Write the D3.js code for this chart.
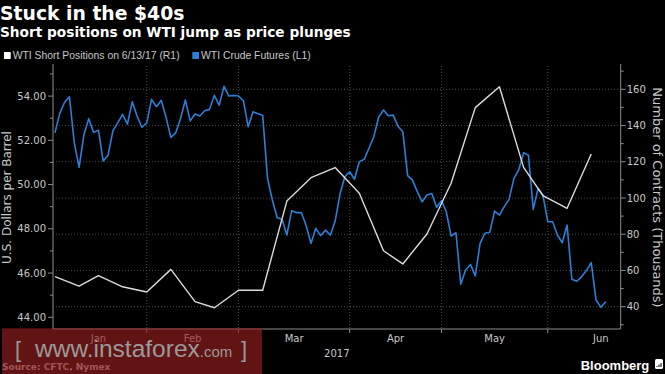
<!DOCTYPE html>
<html>
<head>
<meta charset="utf-8">
<script src="https://cdn.jsdelivr.net/npm/d3@7"></script>
<style>
  body { margin: 0; background: #000; }
  svg { display: block; }
</style>
</head>
<body>
<svg id="chart" width="665" height="374"></svg>
<script>
// market holidays in the window (NYMEX closed)
var holidays = ["2017-01-02", "2017-01-16", "2017-02-20", "2017-04-14", "2017-05-29"];
var calendarStart = "2016-12-30", calendarEnd = "2017-07-01";

// WTI crude futures, daily closes from 2017-01-03, one per trading day (L1)
var crudeStart = "2017-01-03";
var crudeFutures = [
  52.34, 53.22, 53.72, 53.97, 51.90, 50.78, 52.25, 52.98, 52.36, 52.46,
  51.06, 51.33, 52.43, 52.79, 53.17, 52.73, 53.74, 53.10, 52.59, 52.79,
  53.85, 53.52, 53.81, 53.04, 52.13, 52.34, 52.99, 53.82, 52.88, 53.19,
  53.10, 53.34, 53.40, 54.03, 53.59, 54.44, 54.00, 54.03, 54.00, 53.79,
  52.61, 53.29, 53.20, 53.13, 50.28, 49.30, 48.50, 48.43, 47.72, 48.82,
  48.73, 48.74, 48.14, 47.34, 48.02, 47.69, 47.94, 47.71, 48.35, 49.57,
  50.35, 50.58, 50.24, 51.03, 51.14, 51.64, 52.16, 53.04, 53.37, 53.11,
  53.14, 52.64, 52.39, 50.40, 50.20, 49.68, 49.22, 49.53, 49.60, 48.97,
  49.27, 48.77, 47.67, 47.82, 45.50, 46.14, 46.39, 45.87, 47.34, 47.80,
  47.84, 48.80, 48.62, 49.00, 49.33, 50.28, 50.66, 51.44, 51.33, 48.88,
  49.83, 49.53, 48.32, 48.32, 47.72, 47.37, 48.17, 45.72, 45.63, 45.83,
  46.11, 46.47, 44.78, 44.45, 44.70
];

// WTI short positions, weekly (thousands of contracts) (R1)
var shortDates = [
  "2017-01-03", "2017-01-10", "2017-01-17", "2017-01-24", "2017-01-31", "2017-02-07",
  "2017-02-14", "2017-02-21", "2017-02-28", "2017-03-07", "2017-03-14", "2017-03-21",
  "2017-03-28", "2017-04-04", "2017-04-11", "2017-04-18", "2017-04-25", "2017-05-02",
  "2017-05-09", "2017-05-16", "2017-05-23", "2017-05-30", "2017-06-06", "2017-06-13"
];
var shortPositions = [
  56.6, 51.4, 57.1, 51.0, 48.1, 60.6, 42.8, 39.4, 49.1, 49.1, 98.3, 111.2,
  116.8, 102.6, 70.9, 63.6, 80.1, 108.1, 149.9, 161.4, 116.9, 101.3, 94.3, 124.3
];

var monthNames = ["Jan", "Feb", "Mar", "Apr", "May", "Jun"];
var leftTicks = [44, 46, 48, 50, 52, 54];
var leftMinor = [45, 47, 49, 51, 53, 55];
var rightTicks = [40, 60, 80, 100, 120, 140, 160];
var rightMinor = [30, 50, 70, 90, 110, 130, 150, 170];
var yearLabel = "2017";

var svg = d3.select("#chart");
var W = 665, H = 374;
svg.append("rect").attr("width", W).attr("height", H).attr("fill", "#000");

// trading day calendar -> index 0 = first crude close
var parse = d3.utcParse("%Y-%m-%d"), fmt = d3.utcFormat("%Y-%m-%d");
var days = d3.utcDays(parse(calendarStart), parse(calendarEnd)).filter(function (d) {
  return d.getUTCDay() % 6 !== 0 && holidays.indexOf(fmt(d)) < 0;
});
var base = days.findIndex(function (d) { return fmt(d) === crudeStart });
function dayIndex(s) { return days.findIndex(function (d) { return fmt(d) === s }) - base }

// last trading day of each month (Dec 2016 .. Jun 2017)
var monthEnds = [];
for (var m = -1; m < 6; m++) {
  var last = null;
  days.forEach(function (d, k) {
    var mm = d.getUTCFullYear() === 2016 ? -1 : d.getUTCMonth();
    if (mm === m) last = k - base;
  });
  monthEnds.push(last);
}

var pL = 53, pR = 620.7, pT = 66, pB = 329;
var x = d3.scaleLinear().domain([-0.4, 117.1]).range([pL, pR]);
var yL = d3.scaleLinear().domain([43.47, 55.36]).range([pB, pT]);
var yR = d3.scaleLinear().domain([27.69, 172.86]).range([pB, pT]);

var gridCol = "#4a4a4a", axisCol = "#8c8c8c", textCol = "#c8c8c8";

// horizontal grid (follows right axis)
svg.append("g").selectAll("line").data(rightTicks).join("line")
  .attr("x1", pL).attr("x2", pR)
  .attr("y1", function (d) { return yR(d) }).attr("y2", function (d) { return yR(d) })
  .attr("stroke", gridCol).attr("stroke-dasharray", "1,2");

// vertical grid at month ends
var inner = monthEnds.slice(1, 6);
svg.append("g").selectAll("line").data(inner).join("line")
  .attr("x1", function (d) { return x(d) }).attr("x2", function (d) { return x(d) })
  .attr("y1", pT).attr("y2", pB)
  .attr("stroke", gridCol).attr("stroke-dasharray", "1,2");

// axes
var ax = svg.append("g").attr("stroke", axisCol).attr("fill", "none");
ax.append("line").attr("x1", pL).attr("x2", pL).attr("y1", pT - 2).attr("y2", pB);
ax.append("line").attr("x1", pR).attr("x2", pR).attr("y1", pT - 2).attr("y2", pB);
ax.append("line").attr("x1", pL).attr("x2", pR).attr("y1", pB).attr("y2", pB);

ax.selectAll(".lt").data(leftTicks).join("line").attr("class", "lt")
  .attr("x1", pL - 5).attr("x2", pL)
  .attr("y1", function (d) { return yL(d) }).attr("y2", function (d) { return yL(d) });
ax.selectAll(".lm").data(leftMinor).join("line").attr("class", "lm")
  .attr("x1", pL - 3).attr("x2", pL)
  .attr("y1", function (d) { return yL(d) }).attr("y2", function (d) { return yL(d) });
ax.selectAll(".rt").data(rightTicks).join("line").attr("class", "rt")
  .attr("x1", pR).attr("x2", pR + 5)
  .attr("y1", function (d) { return yR(d) }).attr("y2", function (d) { return yR(d) });
ax.selectAll(".rm").data(rightMinor).join("line").attr("class", "rm")
  .attr("x1", pR).attr("x2", pR + 3)
  .attr("y1", function (d) { return yR(d) }).attr("y2", function (d) { return yR(d) });
ax.selectAll(".bt").data(inner).join("line").attr("class", "bt")
  .attr("x1", function (d) { return x(d) }).attr("x2", function (d) { return x(d) })
  .attr("y1", pB).attr("y2", pB + 4);

var font = "DejaVu Sans";
svg.append("g").selectAll("text").data(leftTicks).join("text")
  .attr("x", pL - 7).attr("y", function (d) { return yL(d) + 3.6 })
  .attr("text-anchor", "end").attr("fill", textCol)
  .style("font", "10px '" + font + "'")
  .text(function (d) { return d3.format(".2f")(d) });
svg.append("g").selectAll("text").data(rightTicks).join("text")
  .attr("x", pR + 6).attr("y", function (d) { return yR(d) + 3.6 })
  .attr("fill", textCol).style("font", "10px '" + font + "'")
  .text(function (d) { return d });

// month labels centred over each month's trading days
svg.append("g").selectAll("text").data(monthNames).join("text")
  .attr("x", function (d, k) { return x((monthEnds[k] + monthEnds[k + 1]) / 2) })
  .attr("y", 342).attr("text-anchor", "middle").attr("fill", textCol)
  .style("font", "10px '" + font + "'")
  .text(function (d) { return d });
svg.append("text").attr("x", (pL + pR) / 2).attr("y", 357)
  .attr("text-anchor", "middle").attr("fill", textCol)
  .style("font", "10px '" + font + "'").text(yearLabel);

svg.append("text").attr("transform", "translate(10.5," + ((pT + pB) / 2) + ") rotate(-90)")
  .attr("text-anchor", "middle").attr("fill", textCol)
  .style("font", "12px '" + font + "'").text("U.S. Dollars per Barrel");
svg.append("text").attr("transform", "translate(652.5," + ((pT + pB) / 2) + ") rotate(90)")
  .attr("text-anchor", "middle").attr("fill", textCol)
  .style("font", "13px '" + font + "'").text("Number of Contracts (Thousands)");

// series
var crudeLine = d3.line()
  .x(function (d, k) { return x(k) })
  .y(function (d) { return yL(d) });
svg.append("path").datum(crudeFutures).attr("d", crudeLine)
  .attr("fill", "none").attr("stroke", "#2b7fd6").attr("stroke-width", 1.6)
  .attr("stroke-linejoin", "round");

var shortLine = d3.line()
  .x(function (d, k) { return x(dayIndex(shortDates[k])) })
  .y(function (d) { return yR(d) });
svg.append("path").datum(shortPositions).attr("d", shortLine)
  .attr("fill", "none").attr("stroke", "#dcdcdc").attr("stroke-width", 1.4)
  .attr("stroke-linejoin", "round");

// titles + legend
svg.append("text").attr("x", 0).attr("y", 19.5).attr("fill", "#fff")
  .style("font", "bold 18.8px '" + font + "'").text("Stuck in the $40s");
svg.append("text").attr("x", 0).attr("y", 37).attr("fill", "#fff")
  .style("font", "bold 13.7px '" + font + "'").text("Short positions on WTI jump as price plunges");

var legend = [
  { label: "WTI Short Positions on 6/13/17 (R1)", color: "#ffffff", x: 4 },
  { label: "WTI Crude Futures (L1)", color: "#2b7fd6", x: 192.3 }
];
var lg = svg.append("g").selectAll("g").data(legend).join("g")
  .attr("transform", function (d) { return "translate(" + d.x + ",52)" });
lg.append("rect").attr("width", 6.7).attr("height", 7).attr("fill", function (d) { return d.color });
lg.append("text").attr("x", 8.7).attr("y", 7.3).attr("fill", textCol)
  .style("font", "10.4px 'Liberation Sans'").text(function (d) { return d.label });

// footer
svg.append("text").attr("x", 580.7).attr("y", 370).attr("fill", "#fff")
  .style("font", "bold 13px 'Liberation Sans'").text("Bloomberg");
var logo = svg.append("g").attr("transform", "translate(655,359)");
logo.append("rect").attr("width", 8).attr("height", 10).attr("rx", 1.5).attr("fill", "#fff");
logo.selectAll("line").data([3, 5, 7]).join("line")
  .attr("x1", function (d) { return d - 1 }).attr("x2", function (d) { return d - 1 })
  .attr("y1", function (d, k) { return 7 - k * 1.5 }).attr("y2", 8)
  .attr("stroke", "#000").attr("stroke-width", 1);

svg.append("text").attr("x", 2).attr("y", 370).attr("fill", "#b8b8b8")
  .style("font", "bold 9px '" + font + "'").text("Source: CFTC, Nymex");

// watermark overlay
svg.append("rect").attr("x", 2).attr("y", 328.3).attr("width", 260).attr("height", 46)
  .attr("fill", "rgb(150,30,30)").attr("fill-opacity", 0.65);
var wm = svg.append("text").attr("y", 357.3).attr("fill", "#9a9a9a")
  .style("font-family", "'Liberation Sans'");
wm.append("tspan").attr("x", 15).style("font-size", "22px").text("[");
wm.append("tspan").attr("x", 35).style("font-size", "24.5px").text("www.instaforex");
wm.append("tspan").style("font-size", "15px").text(".com");
wm.append("tspan").attr("x", 241).style("font-size", "22px").text("]");
</script>
</body>
</html>
